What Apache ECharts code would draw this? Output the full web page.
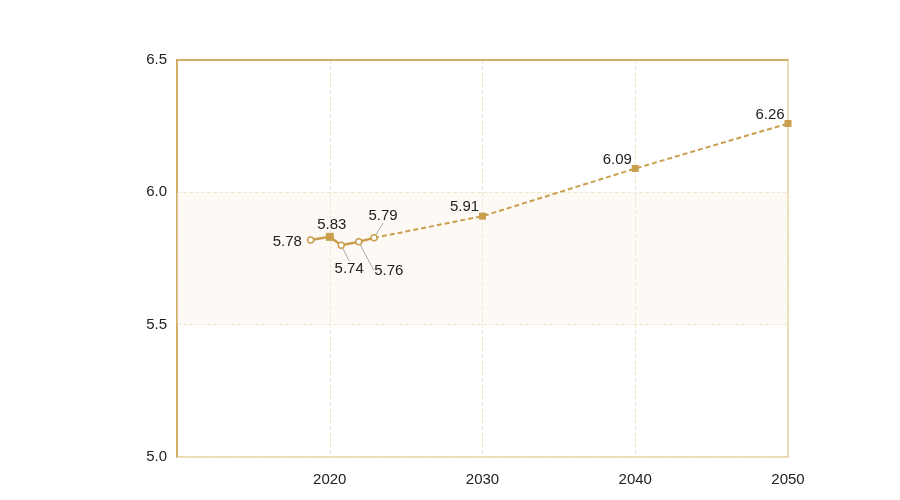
<!DOCTYPE html>
<html><head><meta charset="utf-8">
<script src="https://cdn.jsdelivr.net/npm/echarts@6/dist/echarts.min.js"></script>
<style>html,body{margin:0;padding:0;background:#fff}#c{width:900px;height:500px}</style>
</head><body><div id="c"></div>
<script>
const histYears = [2018.75, 2020, 2020.75, 2021.9, 2022.9];
const histValues = [5.82, 5.832, 5.80, 5.813, 5.828];
const histLabels = ['5.78', '5.83', '5.74', '5.76', '5.79'];
const projYears = [2022.9, 2030, 2040, 2050];
const projValues = [5.828, 5.91, 6.09, 6.26];
const projLabels = ['', '5.91', '6.09', '6.26'];
const xTicks = [2020, 2030, 2040, 2050];
const yTicks = [5.0, 5.5, 6.0, 6.5];

const gold = '#c99f4e';
const font = 'Liberation Sans, Arial, sans-serif';
const movedLine = {show: true, lineStyle: {color: '#aaa', width: 1}};

const histData = histYears.map((x, i) => ({
  value: [x, histValues[i]],
  symbol: i === 1 ? 'rect' : 'circle',
  symbolSize: i === 1 ? 7 : 6,
  itemStyle: i === 1 ? {color: gold, borderColor: gold} : {color: '#fff', borderColor: gold, borderWidth: 1.5},
  label: {show: true, formatter: histLabels[i], position: ['left', 'top', 'bottom', 'bottom', 'top'][i]},
  labelLine: i >= 2 ? movedLine : {show: false}
}));
const projData = projYears.map((x, i) => ({
  value: [x, projValues[i]],
  symbol: i === 0 ? 'none' : 'rect',
  symbolSize: 7,
  label: {show: i > 0, formatter: projLabels[i], position: 'top', offset: [-18, 7]}
}));
const histMoves = {0: [0, 2], 1: [2, 5], 2: [8, 7], 3: [30, 13], 4: [9, -6]};

const chart = echarts.init(document.getElementById('c'));
chart.setOption({
  animation: false,
  grid: {left: 177, right: 112, top: 60, bottom: 43, show: true, borderColor: '#e3cc95', borderWidth: 1.5, backgroundColor: 'transparent'},
  xAxis: [{
    type: 'value', min: 2010, max: 2050, interval: 10,
    axisLine: {show: false}, axisTick: {show: false},
    axisLabel: {color: '#222', fontSize: 15, fontFamily: font, margin: 15, formatter: v => xTicks.includes(v) ? String(v) : ''},
    splitLine: {show: true, lineStyle: {color: '#efe3c6', type: 'dashed'}}
  }, {
    type: 'value', position: 'top', min: 2010, max: 2050,
    axisLine: {show: true, lineStyle: {color: gold, width: 1.5}}, axisTick: {show: false}, axisLabel: {show: false}, splitLine: {show: false}
  }],
  yAxis: {
    type: 'value', min: 5.0, max: 6.5, interval: 0.5,
    axisLine: {show: true, lineStyle: {color: gold, width: 1.5}}, axisTick: {show: false},
    axisLabel: {color: '#222', fontSize: 15, fontFamily: font, margin: 10, formatter: v => yTicks.find(t => Math.abs(t - v) < 1e-6).toFixed(1)},
    splitLine: {show: true, lineStyle: {color: '#efe3c6', type: 'dashed'}}
  },
  series: [{
    type: 'line', data: projData, z: 2,
    lineStyle: {color: gold, width: 2, type: [5, 3]},
    itemStyle: {color: gold},
    label: {color: '#222', fontSize: 15, fontFamily: font},
    markArea: {silent: true, itemStyle: {color: 'rgba(250,242,228,0.35)'}, data: [[{yAxis: 5.5}, {yAxis: 6.0}]]}
  }, {
    type: 'line', data: histData, z: 3,
    lineStyle: {color: gold, width: 2.5},
    label: {color: '#222', fontSize: 15, fontFamily: font},
    labelLayout: p => histMoves[p.dataIndex] ? {dx: histMoves[p.dataIndex][0], dy: histMoves[p.dataIndex][1]} : {}
  }]
});
</script></body></html>
